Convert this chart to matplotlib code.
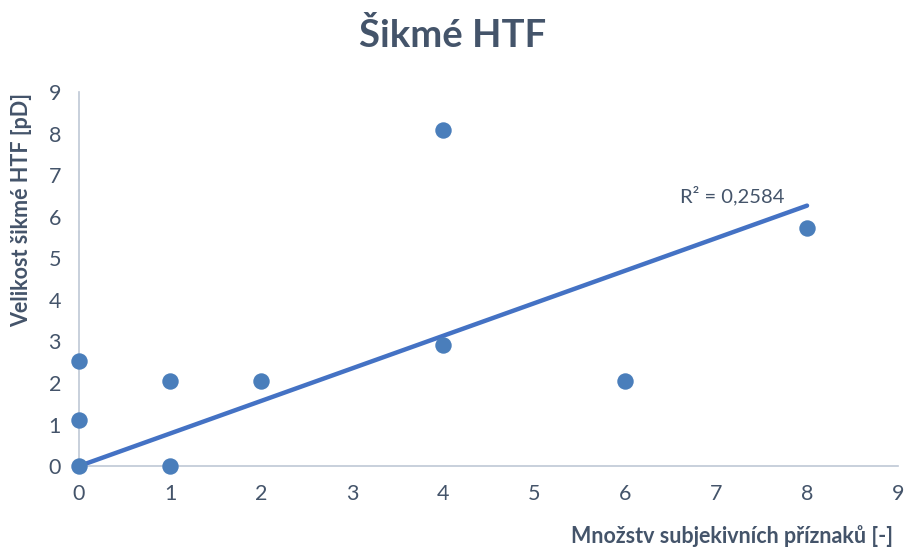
import numpy as np
import matplotlib.pyplot as plt

# ---- DATA ----
symptoms = [0, 0, 0, 1, 1, 2, 4, 4, 6, 8]
htf_size = [0.0, 1.1, 2.52, 2.04, 0.0, 2.04, 8.1, 2.91, 2.04, 5.72]
r2_text = "R² = 0,2584"

TEXT_COLOR = "#44546A"
AXIS_COLOR = "#BFC8D6"
POINT_COLOR = "#4A7EBB"
LINE_COLOR = "#4472C4"

plt.rcParams["font.family"] = ["Lato", "DejaVu Sans"]

x = np.array(symptoms, dtype=float)
y = np.array(htf_size, dtype=float)

# linear trend forced through the origin
slope = (x * y).sum() / (x * x).sum()
x_fit = np.array([0.0, x.max()])
y_fit = slope * x_fit

fig = plt.figure(figsize=(9.06, 5.49), dpi=100)
ax = fig.add_axes([0.0872, 0.151, 0.904, 0.681])

ax.scatter(x, y, s=140, color=POINT_COLOR, zorder=3, linewidths=0, clip_on=False)
ax.plot(x_fit, y_fit, color=LINE_COLOR, lw=3.2, solid_capstyle="round", zorder=2,
        clip_on=False)

ax.set_xlim(0, 9)
ax.set_ylim(0, 9)
ax.set_xticks(range(10))
ax.set_yticks(range(10))

for side in ["top", "right"]:
    ax.spines[side].set_visible(False)
for side in ["left", "bottom"]:
    ax.spines[side].set_color(AXIS_COLOR)
    ax.spines[side].set_linewidth(1.2)
ax.tick_params(length=0, labelsize=15.5, labelcolor=TEXT_COLOR)
ax.tick_params(axis="x", pad=13)
ax.tick_params(axis="y", pad=13)

ax.text(7.75, 6.28, r2_text, fontsize=14.5, color=TEXT_COLOR, ha="right", va="bottom")

fig.text(0.5, 0.935, "Šikmé HTF", fontsize=27.5, fontweight="bold",
         color=TEXT_COLOR, ha="center", va="center")
fig.text(0.986, 0.024, "Množstv subjekivních příznaků [-]", fontsize=15.5,
         fontweight="bold", color=TEXT_COLOR, ha="right", va="center")
fig.text(0.024, 0.617, "Velikost šikmé HTF [pD]", fontsize=15.5, fontweight="bold",
         color=TEXT_COLOR, ha="center", va="center", rotation=90)

fig.savefig("out.png", dpi=100)
